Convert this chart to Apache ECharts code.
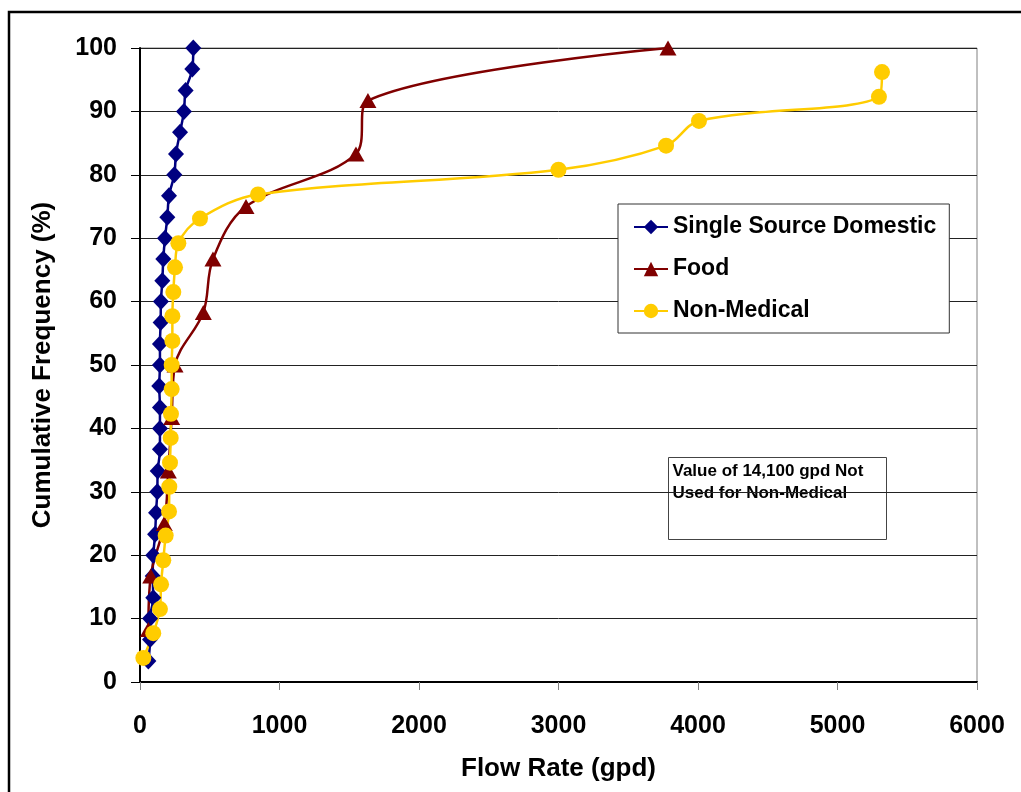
<!DOCTYPE html>
<html>
<head>
<meta charset="utf-8">
<script src="https://cdn.jsdelivr.net/npm/echarts@6/dist/echarts.min.js"></script>
<style>
html,body{margin:0;padding:0;background:#fff;}
#chart{width:1021px;height:792px;}
</style>
</head>
<body>
<div id="chart"></div>
<script>
// Single Source Domestic
const ssdX = [60,72,72,95,91,95,108,115,124,127,143,143,143,138,143,143,148,150,160,167,179,196,208,246,258,287,315,327,375,382];
const ssdY = [3.3,6.7,10,13.3,16.7,20,23.3,26.7,30,33.3,36.7,40,43.3,46.7,50,53.3,56.7,60,63.3,66.7,70,73.3,76.7,80,83.3,86.7,90,93.3,96.7,100];
// Food
const foodX = [60,77,174,203,227,251,454,523,760,1548,1634,3785];
const foodY = [8.3,16.7,25,33.3,41.7,50,58.3,66.7,75,83.3,91.7,100];
// Non-Medical
const nmX = [24,95,143,151,167,184,208,210,215,220,222,227,227,232,232,239,251,275,430,846,3000,3771,4007,5297,5319];
const nmY = [3.8,7.7,11.5,15.4,19.2,23.1,26.9,30.8,34.6,38.5,42.3,46.2,50,53.8,57.7,61.5,65.4,69.2,73.1,76.9,80.8,84.6,88.5,92.3,96.2];

const seriesNames = ['Single Source Domestic','Food','Non-Medical'];
const xTicks = [0,1000,2000,3000,4000,5000,6000];
const yTicks = [0,10,20,30,40,50,60,70,80,90,100];
const noteLines = ['Value of 14,100 gpd Not','Used for Non-Medical'];

const FONT = '"Liberation Sans", Arial, sans-serif';
function pairs(xs, ys){ return xs.map((x,i)=>[x, ys[i]]); }

const chart = echarts.init(document.getElementById('chart'), null, {renderer:'canvas'});
chart.setOption({
  animation:false,
  backgroundColor:'#fff',
  grid:{left:140, top:48, width:837, height:634, show:true, borderColor:'#808080', borderWidth:1, backgroundColor:'transparent'},
  xAxis:{
    type:'value', min:xTicks[0], max:xTicks[xTicks.length-1], interval:1000,
    name:'Flow Rate (gpd)', nameLocation:'middle', nameGap:74,
    nameTextStyle:{fontFamily:FONT, fontWeight:'bold', fontSize:26, color:'#000'},
    axisLine:{show:true, lineStyle:{color:'#000', width:2}},
    axisTick:{show:true, inside:false, length:8, lineStyle:{color:'#808080', width:1}},
    axisLabel:{margin:32, fontFamily:FONT, fontWeight:'bold', fontSize:25, color:'#000',
      formatter:function(v){ return String(v); }},
    splitLine:{show:false}
  },
  yAxis:{
    type:'value', min:yTicks[0], max:yTicks[yTicks.length-1], interval:10,
    name:'Cumulative Frequency (%)', nameLocation:'middle', nameGap:84,
    nameTextStyle:{fontFamily:FONT, fontWeight:'bold', fontSize:26, color:'#000'},
    axisLine:{show:true, lineStyle:{color:'#000', width:2}},
    axisTick:{show:true, inside:false, length:9, lineStyle:{color:'#000', width:1}},
    axisLabel:{margin:23, fontFamily:FONT, fontWeight:'bold', fontSize:25, color:'#000'},
    splitLine:{show:true, lineStyle:{color:'#222', width:1}}
  },
  legend:{
    orient:'vertical', left:618, top:204,
    padding:[10,13,9,15], itemGap:16, itemWidth:34, itemHeight:18,
    backgroundColor:'#fff', borderColor:'#333', borderWidth:1,
    textStyle:{fontFamily:FONT, fontWeight:'bold', fontSize:23, color:'#000', lineHeight:26},
    data:seriesNames
  },
  series:[
    {name:seriesNames[0], type:'line', data:pairs(ssdX, ssdY), smooth:0.35,
     symbol:'diamond', symbolSize:[16,17], color:'#000080',
     lineStyle:{color:'#000080', width:2.5}, itemStyle:{color:'#000080'}},
    {name:seriesNames[1], type:'line', data:pairs(foodX, foodY), smooth:0.35,
     symbol:'triangle', symbolSize:[17,15], color:'#800000',
     lineStyle:{color:'#800000', width:2.5}, itemStyle:{color:'#800000'}},
    {name:seriesNames[2], type:'line', data:pairs(nmX, nmY), smooth:0.35,
     symbol:'circle', symbolSize:16, color:'#FFCC00',
     lineStyle:{color:'#FFCC00', width:2.5}, itemStyle:{color:'#FFCC00'}}
  ],
  graphic:[
    {type:'rect', shape:{x:9, y:12, width:1100, height:900}, style:{fill:'none', stroke:'#000', lineWidth:2.5}, silent:true, z:100},
    {type:'group', left:668, top:457, children:[
      {type:'rect', shape:{x:0, y:0, width:218, height:82}, style:{fill:'#fff', stroke:'#444', lineWidth:1}},
      {type:'text', x:4, y:3, style:{text:noteLines.join('\n'), fontFamily:FONT, fontWeight:'bold', fontSize:17, lineHeight:22, fill:'#000'}}
    ]}
  ]
});
</script>
</body>
</html>
